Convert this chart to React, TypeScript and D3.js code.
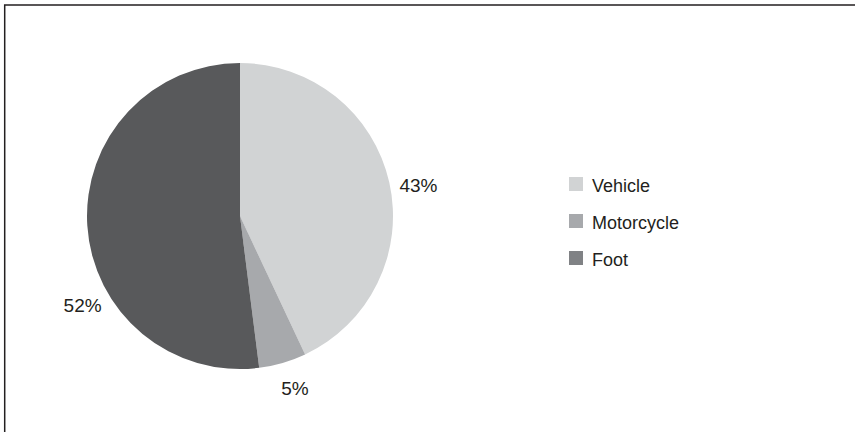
import React from "react";
import * as d3 from "d3";

const categories = ["Vehicle", "Motorcycle", "Foot"];
const values = [43, 5, 52];
const labels = ["43%", "5%", "52%"];

const sliceColors = ["#d1d3d4", "#a7a9ac", "#58595b"];
const swatchColors = ["#d1d3d4", "#a7a9ac", "#808285"];
// layout: angular shift (degrees) applied to each label from its slice middle
const labelShift = [3, -1.5, -26];

const W = 855;
const H = 432;
const cx = 240;
const cy = 216;
const R = 153;
const labelR = 181;

export default function App() {
  const pie = d3.pie<number>().sort(null).value((d) => d);
  const arcs = pie(values);
  const arc = d3.arc<d3.PieArcDatum<number>>().innerRadius(0).outerRadius(R);
  const font = "'Liberation Sans', Arial, Helvetica, sans-serif";
  const legendY = d3.scalePoint<string>().domain(categories).range([184, 258]);

  return (
    <svg
      width={W}
      height={H}
      style={{ position: "absolute", left: 0, top: 0, background: "#fff" }}
    >
      <rect x={4.7} y={5} width={W + 20} height={H + 20} fill="#fff" stroke="#231f20" strokeWidth={1.5} />
      <g transform={`translate(${cx},${cy})`}>
        {arcs.map((a, i) => (
          <path key={i} d={arc(a) || ""} fill={sliceColors[i]} />
        ))}
        {arcs.map((a, i) => {
          const mid = (a.startAngle + a.endAngle) / 2 + (labelShift[i] * Math.PI) / 180;
          const x = Math.sin(mid) * labelR;
          const y = -Math.cos(mid) * labelR;
          return (
            <text
              key={i}
              x={x}
              y={y}
              textAnchor="middle"
              dy="0.35em"
              fontFamily={font}
              fontSize={19}
              fill="#231f20"
            >
              {labels[i]}
            </text>
          );
        })}
      </g>
      <g>
        {categories.map((c, i) => {
          const y = legendY(c) as number;
          return (
            <g key={c}>
              <rect x={569} y={y - 7} width={14} height={14} fill={swatchColors[i]} />
              <text x={592} y={y + 7.5} fontFamily={font} fontSize={18} fill="#231f20">
                {c}
              </text>
            </g>
          );
        })}
      </g>
    </svg>
  );
}
